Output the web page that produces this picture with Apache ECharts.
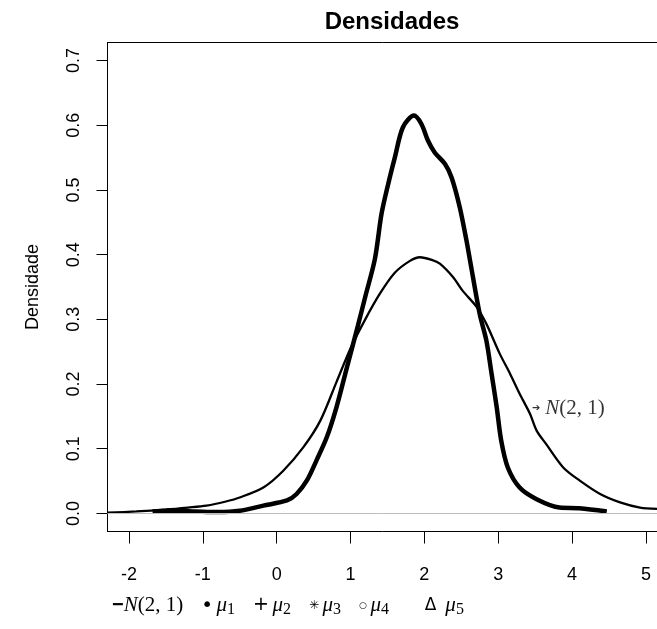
<!DOCTYPE html>
<html>
<head>
<meta charset="utf-8">
<script src="https://cdn.jsdelivr.net/npm/echarts@6/dist/echarts.min.js"></script>
<style>
html,body{margin:0;padding:0;background:#fff;}
#chart{width:657px;height:629px;}
</style>
</head>
<body>
<div id="chart"></div>
<script>
// ---- data ----
const titleText = 'Densidades';
const yAxisName = 'Densidade';
const xTicks = [-2, -1, 0, 1, 2, 3, 4, 5];
const yTicks = [0, 0.1, 0.2, 0.3, 0.4, 0.5, 0.6, 0.7];
const xLimits = [-2.29, 5.15];
const yLimits = [-0.028, 0.728];

// N(2,1) density estimate: x values and densities
const normX = [-2.29, -1.9, -1.5, -1.2, -0.95, -0.7, -0.49, -0.18, 0.09, 0.36, 0.59, 0.81, 1.0, 1.2, 1.4, 1.6, 1.8, 1.94, 2.1, 2.21, 2.39, 2.52, 2.71, 2.84, 3.02, 3.16, 3.29, 3.43, 3.52, 3.65, 3.88, 4.10, 4.38, 4.65, 4.92, 5.15];
const normY = [0.001, 0.003, 0.006, 0.009, 0.012, 0.018, 0.025, 0.040, 0.066, 0.102, 0.143, 0.203, 0.255, 0.300, 0.340, 0.372, 0.390, 0.396, 0.392, 0.386, 0.365, 0.344, 0.319, 0.293, 0.247, 0.216, 0.185, 0.154, 0.128, 0.107, 0.071, 0.051, 0.030, 0.017, 0.009, 0.007];

// mu_1 density estimate (thick dotted curve)
const muX = [-1.68, -1.4, -1.1, -0.8, -0.5, -0.18, 0.14, 0.27, 0.41, 0.54, 0.68, 0.81, 0.95, 1.1, 1.2, 1.33, 1.42, 1.51, 1.60, 1.71, 1.86, 1.96, 2.05, 2.14, 2.28, 2.37, 2.48, 2.57, 2.62, 2.75, 2.84, 2.91, 2.98, 3.04, 3.13, 3.29, 3.52, 3.83, 4.10, 4.47];
const muY = [0.003, 0.004, 0.003, 0.002, 0.004, 0.012, 0.020, 0.030, 0.051, 0.082, 0.118, 0.164, 0.225, 0.290, 0.335, 0.393, 0.463, 0.509, 0.550, 0.597, 0.615, 0.602, 0.576, 0.558, 0.540, 0.519, 0.473, 0.422, 0.390, 0.308, 0.267, 0.216, 0.164, 0.113, 0.071, 0.040, 0.022, 0.009, 0.008, 0.003];

const legendNames = ['N(2,1)', 'μ1', 'μ2', 'μ3', 'μ4', 'μ5'];
const legendSymbols = ['−', '•', '+', '✳', '○', 'Δ'];
const annotationPoint = [3.45, 0.1625];
const annotationText = 'N(2, 1)';

// ---- chart ----
const zip = (xs, ys) => xs.map((x, i) => [x, ys[i]]);
const sans = 'Liberation Sans, Arial, sans-serif';
const serif = 'Liberation Serif, Times New Roman, serif';
const symStyles = ['dash', 'dot', 'plus', 'star', 'circ', 'tri'];

const chart = echarts.init(document.getElementById('chart'), null, {renderer: 'canvas'});
const option = {
  animation: false,
  backgroundColor: '#ffffff',
  title: {
    text: titleText,
    left: 387, textAlign: 'center', top: 5,
    textStyle: {fontFamily: sans, fontSize: 24, fontWeight: 'bold', color: '#000'}
  },
  grid: {
    left: 107.5, top: 42.5, right: 0, height: 489,
    show: false
  },
  xAxis: [{
    type: 'value', min: xLimits[0], max: xLimits[1], position: 'bottom',
    axisLine: {show: true, onZero: false, lineStyle: {color: '#000', width: 1}},
    axisTick: {show: true, length: 12, customValues: xTicks, lineStyle: {color: '#000'}},
    axisLabel: {customValues: xTicks, margin: 35, fontFamily: sans, fontSize: 18, color: '#000'},
    splitLine: {show: false}
  }, {
    type: 'value', min: xLimits[0], max: xLimits[1], position: 'top',
    axisLine: {show: true, onZero: false, lineStyle: {color: '#000', width: 1}},
    axisTick: {show: false}, axisLabel: {show: false}, splitLine: {show: false}
  }],
  yAxis: {
    type: 'value', min: yLimits[0], max: yLimits[1],
    name: yAxisName, nameLocation: 'middle', nameGap: 65, nameRotate: 90,
    nameTextStyle: {fontFamily: sans, fontSize: 18, color: '#000'},
    axisLine: {show: true, onZero: false, lineStyle: {color: '#000', width: 1}},
    axisTick: {show: true, length: 11, customValues: yTicks, lineStyle: {color: '#000'}},
    axisLabel: {customValues: yTicks, rotate: 90, margin: 24, fontFamily: sans, fontSize: 18, color: '#000',
      formatter: v => v.toFixed(1)},
    splitLine: {show: false}
  },
  legend: {
    data: legendNames,
    selectedMode: false,
    left: 102, top: 590,
    orient: 'horizontal',
    itemWidth: 0, itemHeight: 0, itemGap: 13,
    icon: 'none',
    formatter: function (name) {
      const i = legendNames.indexOf(name);
      const sym = '{' + symStyles[i] + '|' + legendSymbols[i] + '}';
      if (i === 0) return sym + '{it|N}{rm|(2, 1)}';
      const lead = (i === 5) ? '{gap|\u00a0\u00a0\u00a0\u00a0}' : '';
      return lead + sym + (i === 5 ? '{wide| }' : '{sp| }') + '{it|μ}{sub|' + name.slice(1) + '}';
    },
    textStyle: {
      color: '#000',
      rich: {
        dash: {fontFamily: sans, fontSize: 20, fontWeight: 'bold', color: '#000'},
        dot: {fontFamily: 'DejaVu Sans, sans-serif', fontSize: 20, color: '#000'},
        plus: {fontFamily: 'DejaVu Sans, sans-serif', fontSize: 19, color: '#000'},
        star: {fontFamily: 'DejaVu Sans, sans-serif', fontSize: 12, color: '#000'},
        circ: {fontFamily: 'DejaVu Sans, sans-serif', fontSize: 9, color: '#000'},
        tri: {fontFamily: 'DejaVu Sans, sans-serif', fontSize: 17, color: '#000'},
        gap: {fontFamily: sans, fontSize: 16, color: '#000'},
        sp: {fontFamily: serif, fontSize: 14, color: '#000'},
        wide: {fontFamily: serif, fontSize: 14, color: '#000', width: 9},
        it: {fontFamily: serif, fontStyle: 'italic', fontSize: 21, color: '#000'},
        rm: {fontFamily: serif, fontSize: 21, color: '#000'},
        sub: {fontFamily: serif, fontSize: 16, color: '#000', padding: [9, 0, 0, 0]}
      }
    }
  },
  series: [
    {
      name: 'N(2,1)', type: 'line', data: zip(normX, normY),
      showSymbol: false, symbol: 'none', smooth: 0.3, z: 3,
      lineStyle: {color: '#000', width: 2.3},
      itemStyle: {color: '#000'},
      markLine: {
        silent: true, symbol: 'none', label: {show: false},
        lineStyle: {color: '#bdbdbd', width: 1, type: 'solid'},
        data: [{yAxis: 0}]
      }
    },
    {
      name: 'μ1', type: 'line', data: zip(muX, muY),
      showSymbol: false, symbol: 'none', smooth: 0.3, z: 4,
      lineStyle: {color: '#000', width: 4.5},
      itemStyle: {color: '#000'}
    },
    {name: 'μ2', type: 'line', data: [], itemStyle: {color: '#000'}},
    {name: 'μ3', type: 'line', data: [], itemStyle: {color: '#000'}},
    {name: 'μ4', type: 'line', data: [], itemStyle: {color: '#000'}},
    {name: 'μ5', type: 'line', data: [], itemStyle: {color: '#000'}},
    {
      name: 'annotation', type: 'scatter', data: [annotationPoint],
      symbolSize: 1, itemStyle: {color: 'transparent'}, z: 5, silent: true,
      label: {
        show: true, position: 'right', distance: 0,
        formatter: '{arr|➔}{it|N}{rm|(2, 1)}',
        rich: {
          arr: {fontFamily: 'DejaVu Sans, sans-serif', fontSize: 10, color: '#000', padding: [0, 5, 0, 0]},
          it: {fontFamily: serif, fontStyle: 'italic', fontSize: 21, color: '#000'},
          rm: {fontFamily: serif, fontSize: 21, color: '#000'}
        }
      }
    }
  ]
};
chart.setOption(option);
</script>
</body>
</html>
